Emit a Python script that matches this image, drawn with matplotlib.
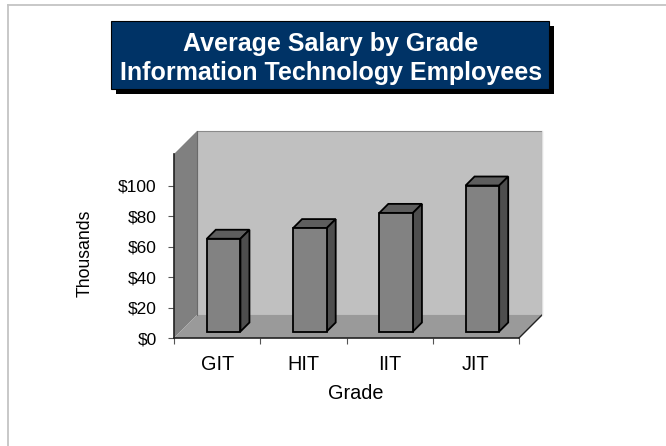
import matplotlib
matplotlib.use('Agg')
import matplotlib.pyplot as plt
from matplotlib.patches import Polygon, Rectangle
from matplotlib.lines import Line2D

plt.rcParams['font.family'] = ['Liberation Sans', 'DejaVu Sans']

# salary per grade, in thousands of dollars
grades = ["GIT", "HIT", "IIT", "JIT"]
salaries = [61, 68, 78, 96]
y_ticks = [0, 20, 40, 60, 80, 100]
y_tick_labels = ["$0", "$20", "$40", "$60", "$80", "$100"]
title_lines = ["Average Salary by Grade", "Information Technology Employees"]

W, H = 666, 446
YMAX = 121

# axes box in pixels (front plane of the fake 3D chart)
AX_L, AX_B, AX_W, AX_H = 174, 108, 345, 184
WALL_DEPTH = 23      # px, floor/wall depth
BAR_NEAR, BAR_FAR = 6.5, 15.5
BAR_WIDTH = 0.39

fig = plt.figure(figsize=(W / 100, H / 100), dpi=100)
ax = fig.add_axes([AX_L / W, AX_B / H, AX_W / W, AX_H / H])
n = len(grades)
ax.set_xlim(0, n)
ax.set_ylim(0, YMAX)
ax.patch.set_visible(False)

px_x = AX_W / n
px_y = AX_H / YMAX


def shift(px):
    return px / px_x, px / px_y


dx, dy = shift(WALL_DEPTH)

# walls and floor
back = Polygon([(dx, dy), (n + dx, dy), (n + dx, YMAX + dy), (dx, YMAX + dy)],
               closed=True, facecolor='#c0c0c0', edgecolor='#8a8a8a', lw=0.8,
               clip_on=False, zorder=0)
left = Polygon([(0, 0), (dx, dy), (dx, YMAX + dy), (0, YMAX)],
               closed=True, facecolor='#808080', edgecolor='none',
               clip_on=False, zorder=0.5)
floor = Polygon([(0, 0), (n, 0), (n + dx, dy), (dx, dy)],
                closed=True, facecolor='#9a9a9a', edgecolor='none',
                clip_on=False, zorder=0.5)
for p in (back, left, floor):
    ax.add_patch(p)
ax.plot([n, n + dx], [0, dy], color='#222222', lw=1.0, clip_on=False, zorder=1)
ax.plot([dx, dx], [dy, YMAX + dy], color='#6a6a6a', lw=0.8, clip_on=False, zorder=1)
ax.plot([n + dx, n + dx], [dy, YMAX + dy], color='#e0e0e0', lw=0.8, clip_on=False, zorder=1)

# bars: front face from ax.bar, top and side faces as polygons
nx, ny = shift(BAR_NEAR)
fx, fy = shift(BAR_FAR)
centers = [i + 0.5 for i in range(n)]
ax.bar([c + nx for c in centers], salaries, width=BAR_WIDTH, bottom=ny,
       color='#828282', edgecolor='black', linewidth=1.3, zorder=3)
for c, v in zip(centers, salaries):
    x0 = c - BAR_WIDTH / 2 + nx
    x1 = c + BAR_WIDTH / 2 + nx
    top = Polygon([(x0, v + ny), (x1, v + ny),
                   (x1 + fx - nx, v + fy), (x0 + fx - nx, v + fy)],
                  closed=True, facecolor='#5e5e5e', edgecolor='black',
                  lw=1.3, zorder=2.5, clip_on=False)
    side = Polygon([(x1, ny), (x1 + fx - nx, fy),
                    (x1 + fx - nx, v + fy), (x1, v + ny)],
                   closed=True, facecolor='#4e4e4e', edgecolor='black',
                   lw=1.3, zorder=2.5, clip_on=False)
    ax.add_patch(top)
    ax.add_patch(side)

# axes
for s in ('top', 'right'):
    ax.spines[s].set_visible(False)
for s in ('left', 'bottom'):
    ax.spines[s].set_color('#222222')
    ax.spines[s].set_linewidth(1.2)
    ax.spines[s].set_zorder(2)

ax.set_yticks(y_ticks)
ax.set_yticklabels(y_tick_labels, fontsize=12.5)
ax.tick_params(axis='y', direction='out', length=4, width=0.8, color='#555555', pad=8.5)

ax.set_xticks(range(n + 1))
ax.set_xticklabels([])
ax.set_xticks(centers, minor=True)
ax.set_xticklabels(grades, minor=True, fontsize=14.3)
ax.tick_params(axis='x', which='major', direction='out', length=4, width=0.8, color='#555555')
ax.tick_params(axis='x', which='minor', length=0, pad=12)

ax.set_ylabel("Thousands", fontsize=12.7)
ax.yaxis.set_label_coords(-0.232, 0.46)
ax.set_xlabel("Grade", fontsize=14.3)
ax.xaxis.set_label_coords(0.528, -0.25)

# title box with drop shadow
bx, by, bw, bh = 111, 21, 438, 68
fig.add_artist(Rectangle(((bx + 5) / W, (H - by - bh - 5) / H), bw / W, bh / H,
                         transform=fig.transFigure, facecolor='black',
                         edgecolor='none', zorder=1))
fig.add_artist(Rectangle((bx / W, (H - by - bh) / H), bw / W, bh / H,
                         transform=fig.transFigure, facecolor='#003366',
                         edgecolor='black', lw=0.8, zorder=2))
for line, base in zip(title_lines, [50.5, 80]):
    fig.text(331 / W, (H - base) / H, line, color='white', fontsize=18,
             fontweight='bold', ha='center', va='baseline', zorder=3)

# thin frame along the top and left
fig.add_artist(Line2D([8 / W, 1], [(H - 5) / H] * 2, transform=fig.transFigure,
                      color='#c4c4c4', lw=1.3))
fig.add_artist(Line2D([8 / W] * 2, [0, (H - 5) / H], transform=fig.transFigure,
                      color='#c4c4c4', lw=1.3))

fig.savefig('out.png', dpi=100)
